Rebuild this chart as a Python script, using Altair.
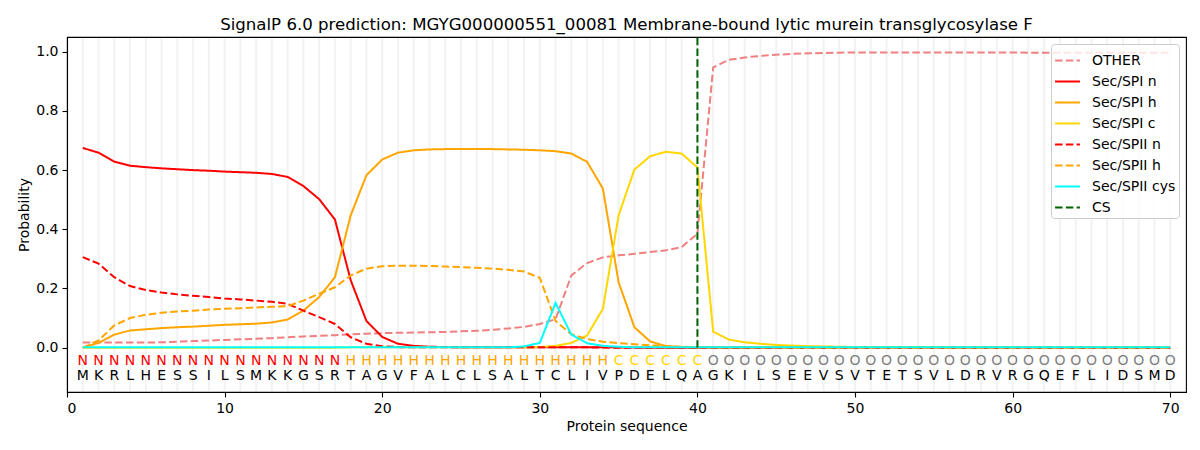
import altair as alt
import pandas as pd

positions = list(range(1, 71))
sequence = list("MKRLHESSILSMKKGSRTAGVFALCLSALTCLIVPDELQAGKILSEEVSVTETSVLDRVRGQEFLIDSMD")
labels = list("N" * 17 + "H" * 17 + "C" * 6 + "O" * 30)

other = [0.017, 0.017, 0.017, 0.017, 0.017, 0.018, 0.020, 0.022, 0.024, 0.026,
         0.028, 0.030, 0.032, 0.035, 0.038, 0.040, 0.042, 0.045, 0.047, 0.049,
         0.050, 0.051, 0.052, 0.053, 0.055, 0.057, 0.060, 0.065, 0.070, 0.080,
         0.096, 0.244, 0.286, 0.305, 0.312, 0.317, 0.323, 0.329, 0.340, 0.385,
         0.947, 0.973, 0.981, 0.986, 0.990, 0.993, 0.995, 0.996, 0.997, 0.998,
         0.998, 0.998, 0.998, 0.998, 0.998, 0.998, 0.998, 0.998, 0.998, 0.998,
         0.997, 0.997, 0.997, 0.997, 0.997, 0.997, 0.997, 0.997, 0.997, 0.997]
sp1_n = [0.675, 0.659, 0.629, 0.615, 0.610, 0.606, 0.603, 0.600, 0.598, 0.595,
         0.593, 0.591, 0.587, 0.577, 0.546, 0.502, 0.433, 0.228, 0.090, 0.036,
         0.013, 0.006, 0.003, 0.002, 0.001, 0.001, 0.001, 0.001, 0.001, 0.001,
         0.001, 0.001, 0.001, 0.001, 0.001, 0.0, 0.0, 0.0, 0.0, 0.0,
         0.0, 0.0, 0.0, 0.0, 0.0, 0.0, 0.0, 0.0, 0.0, 0.0,
         0.0, 0.0, 0.0, 0.0, 0.0, 0.0, 0.0, 0.0, 0.0, 0.0,
         0.0, 0.0, 0.0, 0.0, 0.0, 0.0, 0.0, 0.0, 0.0, 0.0]
sp1_h = [0.0, 0.016, 0.044, 0.058, 0.062, 0.066, 0.069, 0.071, 0.074, 0.077,
         0.079, 0.081, 0.085, 0.095, 0.125, 0.171, 0.238, 0.447, 0.583, 0.636,
         0.659, 0.667, 0.670, 0.671, 0.671, 0.671, 0.671, 0.670, 0.669, 0.667,
         0.664, 0.656, 0.628, 0.538, 0.221, 0.069, 0.021, 0.005, 0.002, 0.001,
         0.0, 0.0, 0.0, 0.0, 0.0, 0.0, 0.0, 0.0, 0.0, 0.0,
         0.0, 0.0, 0.0, 0.0, 0.0, 0.0, 0.0, 0.0, 0.0, 0.0,
         0.0, 0.0, 0.0, 0.0, 0.0, 0.0, 0.0, 0.0, 0.0, 0.0]
sp1_c = [0.0, 0.0, 0.0, 0.0, 0.0, 0.0, 0.0, 0.0, 0.0, 0.0,
         0.0, 0.0, 0.0, 0.0, 0.0, 0.0, 0.0, 0.001, 0.001, 0.001,
         0.001, 0.001, 0.001, 0.001, 0.001, 0.001, 0.001, 0.001, 0.001, 0.002,
         0.006, 0.016, 0.041, 0.131, 0.447, 0.602, 0.647, 0.662, 0.656, 0.609,
         0.054, 0.027, 0.018, 0.013, 0.009, 0.007, 0.005, 0.004, 0.003, 0.002,
         0.002, 0.002, 0.002, 0.002, 0.002, 0.001, 0.001, 0.001, 0.001, 0.001,
         0.001, 0.001, 0.001, 0.001, 0.001, 0.001, 0.001, 0.001, 0.001, 0.001]
sp2_n = [0.306, 0.284, 0.238, 0.208, 0.195, 0.186, 0.180, 0.175, 0.171, 0.166,
         0.163, 0.159, 0.155, 0.148, 0.125, 0.103, 0.080, 0.035, 0.013, 0.005,
         0.002, 0.001, 0.001, 0.001, 0.001, 0.001, 0.001, 0.001, 0.001, 0.001,
         0.001, 0.001, 0.001, 0.0, 0.0, 0.0, 0.0, 0.0, 0.0, 0.0,
         0.0, 0.0, 0.0, 0.0, 0.0, 0.0, 0.0, 0.0, 0.0, 0.0,
         0.0, 0.0, 0.0, 0.0, 0.0, 0.0, 0.0, 0.0, 0.0, 0.0,
         0.0, 0.0, 0.0, 0.0, 0.0, 0.0, 0.0, 0.0, 0.0, 0.0]
sp2_h = [0.0, 0.024, 0.075, 0.100, 0.111, 0.118, 0.122, 0.125, 0.129, 0.131,
         0.133, 0.136, 0.138, 0.140, 0.159, 0.182, 0.204, 0.244, 0.267, 0.275,
         0.277, 0.277, 0.276, 0.274, 0.272, 0.270, 0.267, 0.263, 0.257, 0.236,
         0.090, 0.045, 0.029, 0.020, 0.015, 0.011, 0.008, 0.005, 0.003, 0.002,
         0.001, 0.001, 0.001, 0.001, 0.001, 0.0, 0.0, 0.0, 0.0, 0.0,
         0.0, 0.0, 0.0, 0.0, 0.0, 0.0, 0.0, 0.0, 0.0, 0.0,
         0.0, 0.0, 0.0, 0.0, 0.0, 0.0, 0.0, 0.0, 0.0, 0.0]
sp2_cys = [0.001, 0.001, 0.001, 0.001, 0.001, 0.001, 0.001, 0.001, 0.001, 0.001,
           0.001, 0.001, 0.001, 0.001, 0.001, 0.001, 0.001, 0.001, 0.001, 0.001,
           0.001, 0.001, 0.001, 0.001, 0.001, 0.001, 0.001, 0.001, 0.004, 0.016,
           0.151, 0.044, 0.015, 0.006, 0.003, 0.001, 0.001, 0.001, 0.001, 0.001,
           0.001, 0.001, 0.001, 0.001, 0.001, 0.001, 0.001, 0.001, 0.001, 0.001,
           0.001, 0.001, 0.001, 0.001, 0.001, 0.001, 0.001, 0.001, 0.001, 0.001,
           0.001, 0.001, 0.001, 0.001, 0.001, 0.001, 0.001, 0.001, 0.001, 0.001]
cs_position = 40

series_names = ["OTHER", "Sec/SPI n", "Sec/SPI h", "Sec/SPI c",
                "Sec/SPII n", "Sec/SPII h", "Sec/SPII cys", "CS"]
series_colors = ["#f08080", "#ff0000", "#ffa500", "#ffd700",
                 "#ff0000", "#ffa500", "#00ffff", "#006400"]
dash = [7.5, 3.3]
solid = [1, 0]
series_dashes = [dash, solid, solid, solid, dash, dash, solid, dash]
label_colors = {"N": "#ff0000", "H": "#ffa500", "C": "#ffd700", "O": "#808080"}

series_values = [other, sp1_n, sp1_h, sp1_c, sp2_n, sp2_h, sp2_cys]
rows = []
for name, vals in zip(series_names[:-1], series_values):
    for p, v in zip(positions, vals):
        rows.append({"pos": p, "prob": v, "series": name})
df = pd.DataFrame(rows)

seq_df = pd.DataFrame({
    "pos": positions,
    "letter": sequence,
    "label": labels,
    "lcolor": [label_colors[l] for l in labels],
})
cs_df = pd.DataFrame({"pos": [cs_position], "series": ["CS"], "lo": [0.0], "hi": [1.05]})
grid_df = pd.DataFrame({"pos": positions})

FONT = "DejaVu Sans"

x_scale = alt.Scale(domain=[0, 71], nice=False, zero=False)
y_scale = alt.Scale(domain=[-0.15, 1.05], nice=False, zero=False)
color_scale = alt.Scale(domain=series_names, range=series_colors)
dash_scale = alt.Scale(domain=series_names, range=series_dashes)

legend = alt.Legend(
    title=None, orient="top-right", offset=7, fillColor="rgba(255,255,255,0.8)",
    strokeColor="#cccccc", cornerRadius=3, padding=3,
    labelFont=FONT, labelFontSize=14, labelColor="black",
    symbolSize=620, symbolStrokeWidth=2, symbolType="stroke",
    rowPadding=0, labelOffset=11,
)

x_enc = alt.X("pos:Q", scale=x_scale,
              axis=alt.Axis(values=[0, 10, 20, 30, 40, 50, 60, 70], title="Protein sequence"))
y_enc = alt.Y("prob:Q", scale=y_scale,
              axis=alt.Axis(values=[0, 0.2, 0.4, 0.6, 0.8, 1.0], format=".1f", title="Probability"))

grid = alt.Chart(grid_df).mark_rule(color="#f2f2f2", strokeWidth=2).encode(
    x=alt.X("pos:Q", scale=x_scale),
    y=alt.datum(-0.1465),
    y2=alt.datum(1.0465),
)

lines = alt.Chart(df).mark_line(strokeWidth=2).encode(
    x=x_enc,
    y=y_enc,
    color=alt.Color("series:N", scale=color_scale, legend=legend),
    strokeDash=alt.StrokeDash("series:N", scale=dash_scale, legend=legend),
)

cs_rule = alt.Chart(cs_df).mark_rule(strokeWidth=2).encode(
    x=alt.X("pos:Q", scale=x_scale),
    y=alt.Y("lo:Q", scale=y_scale),
    y2="hi:Q",
    color=alt.Color("series:N", scale=color_scale, legend=legend),
    strokeDash=alt.StrokeDash("series:N", scale=dash_scale, legend=legend),
)

label_text = alt.Chart(seq_df).mark_text(font=FONT, fontSize=14, baseline="middle", align="center").encode(
    x=alt.X("pos:Q", scale=x_scale),
    y=alt.datum(-0.045),
    text="label:N",
    fill=alt.Fill("lcolor:N", scale=None),
)

seq_text = alt.Chart(seq_df).mark_text(font=FONT, fontSize=14, baseline="middle", align="center", color="black").encode(
    x=alt.X("pos:Q", scale=x_scale),
    y=alt.datum(-0.097),
    text="letter:N",
)

chart = alt.layer(grid, lines, cs_rule, label_text, seq_text).properties(
    width=1119,
    height=355,
    autosize=alt.AutoSizeParams(type="none"),
    padding={"left": 59, "top": 29, "right": 6, "bottom": 50},
    title=alt.TitleParams(
        "SignalP 6.0 prediction: MGYG000000551_00081 Membrane-bound lytic murein transglycosylase F",
        font=FONT, fontSize=16.6, fontWeight="normal", color="black",
        anchor="middle", frame="group", baseline="bottom", offset=4, dy=18,
    ),
).configure_view(
    stroke="black", strokeWidth=1.1
).configure_axis(
    grid=False, domainColor="black", domainWidth=1.1, tickColor="black", tickWidth=1.1,
    tickSize=5, labelPadding=4, labelFont=FONT, labelFontSize=14, labelColor="black",
    titleFont=FONT, titleFontSize=14, titleFontWeight="normal", titleColor="black",
)

chart.save("out.html", embed_options={"renderer": "svg", "actions": False})
